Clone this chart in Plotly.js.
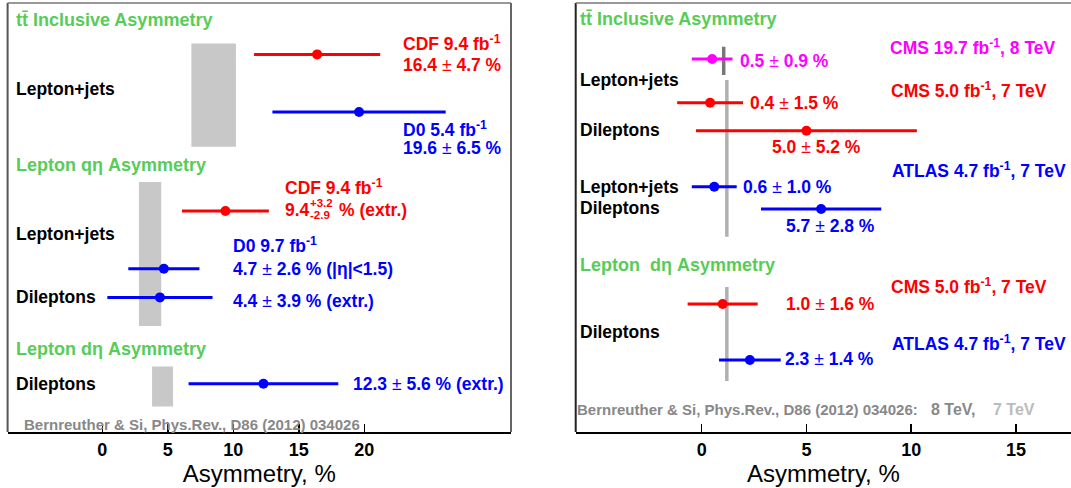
<!DOCTYPE html>
<html><head><meta charset="utf-8">
<script src="https://cdn.plot.ly/plotly-3.0.1.min.js"></script>
<style>html,body{margin:0;padding:0;background:#fff}#chart{width:1071px;height:488px}</style>
</head><body><div id="chart"></div>
<script>
// ================= DATA =================
// Left panel (Tevatron)
const tevExperiments = ['CDF', 'D0', 'CDF', 'D0', 'D0', 'D0'];
const tevValues      = [16.4, 19.6, 9.4, 4.7, 4.4, 12.3];
const tevErrPlus     = [4.7, 6.5, 3.2, 2.6, 3.9, 5.6];
const tevErrMinus    = [4.7, 6.5, 3.2, 2.6, 3.9, 5.6];
const tevSections    = ['tt\u0304 Inclusive Asymmetry', 'Lepton q\u03b7 Asymmetry', 'Lepton d\u03b7 Asymmetry'];
const tevTheoryLow   = [6.8, 2.8, 3.8];
const tevTheoryHigh  = [10.2, 4.5, 5.4];
const tevTicks       = [0, 5, 10, 15, 20];

// Right panel (LHC)
const lhcExperiments = ['CMS8', 'CMS7', 'CMS7', 'ATLAS', 'ATLAS', 'CMS7', 'ATLAS'];
const lhcValues      = [0.5, 0.4, 5.0, 0.6, 5.7, 1.0, 2.3];
const lhcErrors      = [0.9, 1.5, 5.2, 1.0, 2.8, 1.6, 1.4];
const lhcSections    = ['tt\u0304 Inclusive Asymmetry', 'Lepton\u00a0 d\u03b7 Asymmetry'];
const lhcTheory      = [1.05, 1.2, 1.2];   // 8 TeV inclusive, 7 TeV inclusive, 7 TeV lepton d-eta
const lhcTicks       = [0, 5, 10, 15];

const reference = 'Bernreuther & Si, Phys.Rev., D86 (2012) 034026';

// ================= LAYOUT / STYLE =================
const W = 1071, H = 488;
const FONT = 'Liberation Sans, Arial, sans-serif';
const GREEN = '#58cc58';
const colorOf = {CDF: '#ff0000', D0: '#0000ff', CMS8: '#ff00ff', CMS7: '#ff0000', ATLAS: '#0000ff'};
// row positions (in plot pixel units: y axis range = [432, 3])
const tevRowY  = [54.4, 112, 211, 268.8, 297.4, 383.7];
const tevBandY = [[43.4, 146.7], [182, 326], [366.5, 406.5]];
const lhcRowY  = [59, 102.7, 130.7, 186.7, 209, 304, 360];
const lhcTheoryY = [[46.7, 75], [80, 236.7], [287, 381]];
const lhcTheoryColor = ['#777777', '#b0b0b0', '#b0b0b0'];

function pick(arr, idx) { return idx.map(i => arr[i]); }
function groupIdx(exps, key) { const r = []; exps.forEach((e, i) => { if (e === key) r.push(i); }); return r; }

const traces = [];
['CDF', 'D0'].forEach(k => {
  const idx = groupIdx(tevExperiments, k);
  traces.push({
    type: 'scatter', mode: 'markers', xaxis: 'x', yaxis: 'y',
    x: pick(tevValues, idx), y: pick(tevRowY, idx),
    marker: {size: 10, color: colorOf[k]},
    error_x: {type: 'data', symmetric: false, array: pick(tevErrPlus, idx), arrayminus: pick(tevErrMinus, idx),
              color: colorOf[k], thickness: 3, width: 1.5},
    hoverinfo: 'x', showlegend: false
  });
});
['CMS8', 'CMS7', 'ATLAS'].forEach(k => {
  const idx = groupIdx(lhcExperiments, k);
  traces.push({
    type: 'scatter', mode: 'markers', xaxis: 'x2', yaxis: 'y2',
    x: pick(lhcValues, idx), y: pick(lhcRowY, idx),
    marker: {size: 10, color: colorOf[k]},
    error_x: {type: 'data', array: pick(lhcErrors, idx), color: colorOf[k], thickness: 3, width: 1.5},
    hoverinfo: 'x', showlegend: false
  });
});

const shapes = [];
tevTheoryLow.forEach((lo, i) => {
  shapes.push({type: 'rect', xref: 'x', yref: 'y', x0: lo, x1: tevTheoryHigh[i],
    y0: tevBandY[i][0], y1: tevBandY[i][1], fillcolor: '#c8c8c8', line: {width: 0}, layer: 'below'});
});
lhcTheory.forEach((v, i) => {
  shapes.push({type: 'line', xref: 'x2', yref: 'y2', x0: v, x1: v,
    y0: lhcTheoryY[i][0], y1: lhcTheoryY[i][1], line: {color: lhcTheoryColor[i], width: 3.5}, layer: 'below'});
});
// frames
function fr(xr, yr, x0, y0, x1, y1, color, width) {
  return {type: 'line', xref: xr, yref: yr, x0, y0, x1, y1, line: {color, width}};
}
shapes.push(fr('x domain', 'y domain', 0, 0, 0, 1, '#555', 2));
shapes.push(fr('x domain', 'y domain', 0, 1, 1, 1, '#777', 1.5));
shapes.push(fr('x domain', 'y domain', 1, 0, 1, 1, '#666', 2));
shapes.push(fr('x2 domain', 'y2 domain', 0, 0, 0, 1, '#222', 2));
shapes.push(fr('x2 domain', 'y2 domain', 0, 1, 1, 1, '#777', 1.5));

// annotations (text); x in figure pixels (margins l=r=0), y in the pixel-unit y axis
function ann(text, xpx, ypx, color, size, anchor, weight) {
  return {xref: 'paper', yref: 'y', x: xpx / W, y: ypx, xanchor: anchor || 'left', yanchor: 'middle',
    text, showarrow: false, borderpad: 0,
    font: {family: FONT, size: size || 17.5, color: color || '#000', weight: weight || 'bold'}};
}
const PM = ' <span style="font-weight:normal">\u00b1</span> ';
function pmText(v, e) { return v.toFixed(1) + PM + e.toFixed(1) + ' %'; }
const fb = v => v + ' fb<sup>-1</sup>';
const TS = 18;   // section title size

const A = [];
// Left panel
A.push(ann(tevSections[0], 15, 20, GREEN, TS));
A.push(ann('Lepton+jets', 15, 89, '#000', 17.5));
A.push(ann('CDF ' + fb('9.4'), 402, 43, colorOf.CDF));
A.push(ann(pmText(tevValues[0], tevErrPlus[0]), 402, 65.4, colorOf.CDF));
A.push(ann('D0 ' + fb('5.4'), 402, 129, colorOf.D0));
A.push(ann(pmText(tevValues[1], tevErrPlus[1]), 402, 148, colorOf.D0));
A.push(ann(tevSections[1], 15, 164.5, GREEN, TS));
A.push(ann('CDF ' + fb('9.4'), 283.5, 186.7, colorOf.CDF));
A.push(ann(tevValues[2].toFixed(1), 283.5, 210, colorOf.CDF));
A.push(ann('+3.2', 309, 203.3, colorOf.CDF, 11.5));
A.push(ann('-2.9', 309, 214.5, colorOf.CDF, 11.5));
A.push(ann('% (extr.)', 337.5, 210, colorOf.CDF));
A.push(ann('Lepton+jets', 15, 233.7, '#000', 17.5));
A.push(ann('D0 ' + fb('9.7'), 232, 245.4, colorOf.D0));
A.push(ann(pmText(tevValues[3], tevErrPlus[3]) + ' (|\u03b7|&lt;1.5)', 232, 268.8, colorOf.D0));
A.push(ann('Dileptons', 15, 297, '#000', 17.5));
A.push(ann(pmText(tevValues[4], tevErrPlus[4]) + ' (extr.)', 232, 301, colorOf.D0));
A.push(ann(tevSections[2], 15, 349.3, GREEN, TS));
A.push(ann('Dileptons', 15, 383.7, '#000', 17.5));
A.push(ann(pmText(tevValues[5], tevErrPlus[5]) + ' (extr.)', 505, 383.7, colorOf.D0, 17.5, 'right'));
A.push(ann(reference, 23, 424, '#888', 15));

// Right panel
A.push(ann(lhcSections[0], 578.5, 19.3, GREEN, TS));
A.push(ann('CMS ' + fb('19.7') + ', 8 TeV', 1057, 47.3, colorOf.CMS8, 17.5, 'right'));
A.push(ann(pmText(lhcValues[0], lhcErrors[0]), 739, 60.7, colorOf.CMS8));
A.push(ann('Lepton+jets', 578.5, 80, '#000', 17.5));
A.push(ann('CMS ' + fb('5.0') + ', 7 TeV', 1048, 90, colorOf.CMS7, 17.5, 'right'));
A.push(ann(pmText(lhcValues[1], lhcErrors[1]), 749, 102.7, colorOf.CMS7));
A.push(ann('Dileptons', 578.5, 130, '#000', 17.5));
A.push(ann(pmText(lhcValues[2], lhcErrors[2]), 771, 146.7, colorOf.CMS7));
A.push(ann('ATLAS ' + fb('4.7') + ', 7 TeV', 1067, 170, colorOf.ATLAS, 17.5, 'right'));
A.push(ann('Lepton+jets', 578.5, 186.7, '#000', 17.5));
A.push(ann(pmText(lhcValues[3], lhcErrors[3]), 741.5, 186.7, colorOf.ATLAS));
A.push(ann('Dileptons', 578.5, 208.3, '#000', 17.5));
A.push(ann(pmText(lhcValues[4], lhcErrors[4]), 784.5, 226, colorOf.ATLAS));
A.push(ann(lhcSections[1], 579, 265, GREEN, TS));
A.push(ann('CMS ' + fb('5.0') + ', 7 TeV', 1048, 286, colorOf.CMS7, 17.5, 'right'));
A.push(ann(pmText(lhcValues[5], lhcErrors[5]), 784.5, 304, colorOf.CMS7));
A.push(ann('Dileptons', 578.5, 331.7, '#000', 17.5));
A.push(ann('ATLAS ' + fb('4.7') + ', 7 TeV', 1067, 342.7, colorOf.ATLAS, 17.5, 'right'));
A.push(ann(pmText(lhcValues[6], lhcErrors[6]), 784, 359.3, colorOf.ATLAS));
A.push(ann(reference + ':', 576, 409.3, '#888', 15));
A.push(ann('8 TeV,', 930, 409.3, '#888', 16));
A.push(ann('7 TeV', 992, 409.3, '#bbbbbb', 16));

function xax(domain, range, ticks) {
  return {
    domain, range, tickmode: 'array', tickvals: ticks, ticktext: ticks.map(String),
    ticks: 'inside', ticklen: 8, tickwidth: 1.5, tickcolor: '#000',
    showline: true, linecolor: '#000', linewidth: 2, showgrid: false, zeroline: false,
    tickfont: {family: FONT, size: 18, color: '#000', weight: 'bold'},
    title: {text: 'Asymmetry, %', font: {family: FONT, size: 24, color: '#000'}, standoff: 7},
    fixedrange: true
  };
}
const x1px0 = 7.6, x1px1 = 511, x1zero = 102.3, x1scale = 13.1;
const x2px0 = 575.7, x2px1 = 1071, x2zero = 701.7, x2scale = 20.95;

const layout = {
  width: W, height: H, margin: {l: 0, r: 0, t: 3, b: 56},
  paper_bgcolor: '#fff', plot_bgcolor: 'rgba(0,0,0,0)',
  xaxis: Object.assign(xax([x1px0 / W, x1px1 / W], [(x1px0 - x1zero) / x1scale, (x1px1 - x1zero) / x1scale], tevTicks), {anchor: 'y'}),
  xaxis2: Object.assign(xax([x2px0 / W, x2px1 / W], [(x2px0 - x2zero) / x2scale, (x2px1 - x2zero) / x2scale], lhcTicks), {anchor: 'y2'}),
  yaxis: {domain: [0, 1], range: [432, 3], visible: false, anchor: 'x', fixedrange: true},
  yaxis2: {domain: [0, 1], range: [432, 3], visible: false, anchor: 'x2', fixedrange: true},
  shapes, annotations: A, showlegend: false,
  font: {family: FONT}
};
Plotly.newPlot('chart', traces, layout, {displayModeBar: false, staticPlot: true});
</script></body></html>
